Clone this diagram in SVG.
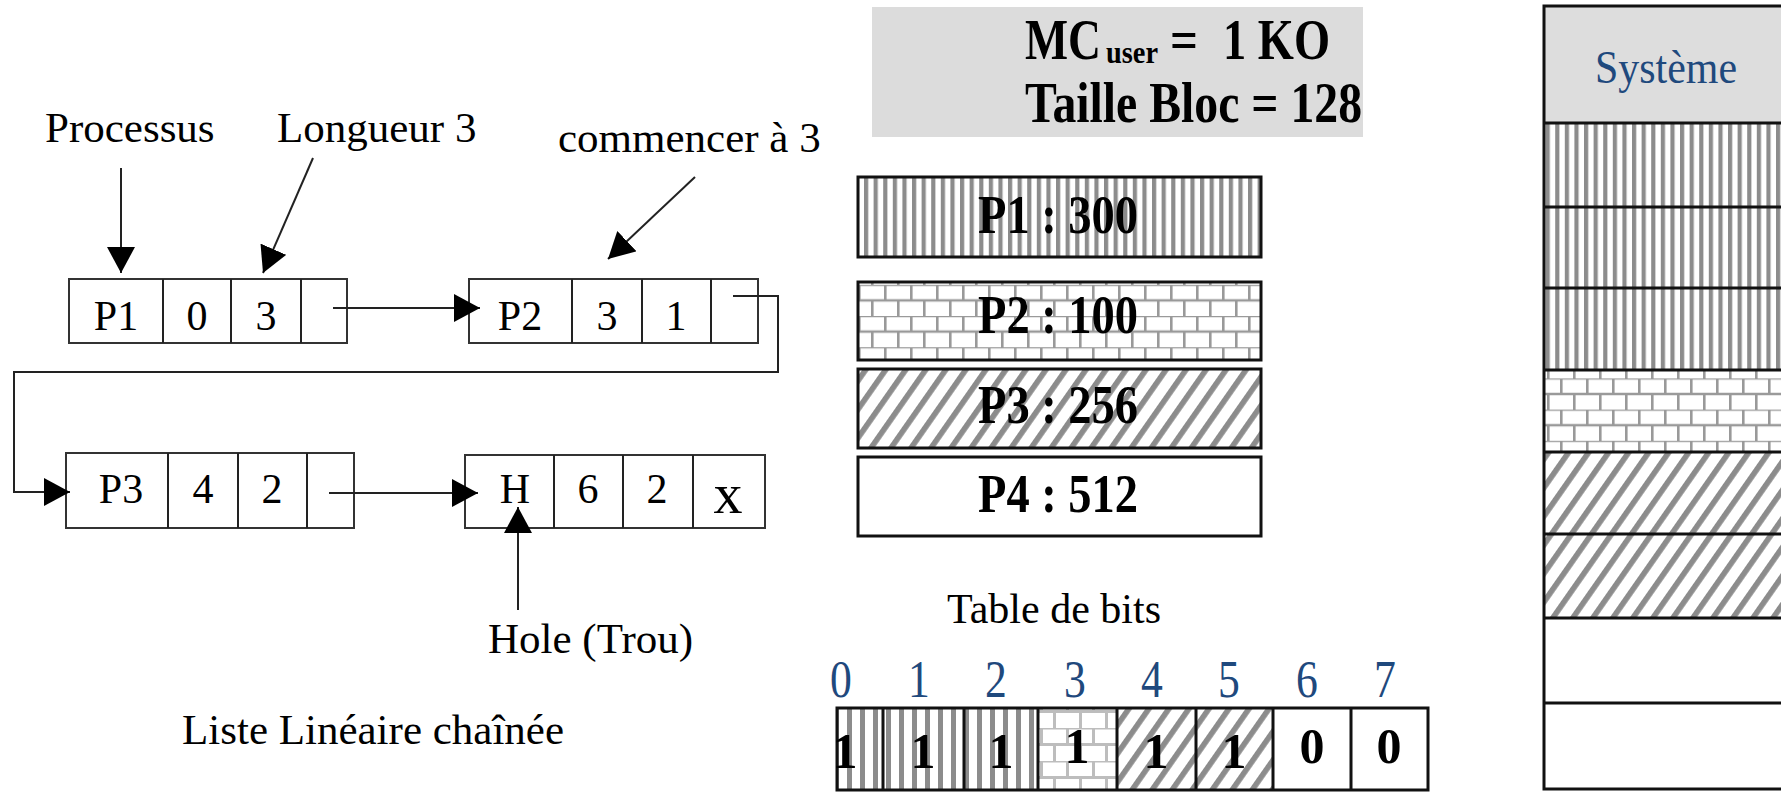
<svg xmlns="http://www.w3.org/2000/svg" width="1781" height="792" viewBox="0 0 1781 792">
  <style>
    .t { font-family: "Liberation Serif", "Times New Roman", serif; fill: #000; }
    .c { text-anchor: middle; }
    .b { font-weight: bold; }
    .blue { fill: #1f497d; }
    .cell { fill: #fff; stroke: #333; stroke-width: 2; }
    .leg { stroke: #111; stroke-width: 3; }
    .col { stroke: #111; stroke-width: 3; }
    .wire { fill: none; stroke: #222; stroke-width: 2; }
    .arrow { fill: none; stroke: #222; stroke-width: 2; marker-end: url(#head); }
  </style>
  <defs>
    <marker id="head" markerUnits="userSpaceOnUse" markerWidth="26" markerHeight="28" viewBox="0 0 26 28" refX="26" refY="14" orient="auto">
      <path d="M0,0 L26,14 L0,28 z" fill="#000"/>
    </marker>
    <!-- vertical stripes: process P1 -->
    <pattern id="vstripe" patternUnits="userSpaceOnUse" width="9.6" height="10">
      <rect width="9.6" height="10" fill="#fff"/>
      <rect width="4.2" height="10" fill="#8c8c8c"/>
    </pattern>
    <pattern id="vstripeBit" patternUnits="userSpaceOnUse" width="13" height="10" x="2">
      <rect width="13" height="10" fill="#fff"/>
      <rect width="5" height="10" fill="#8c8c8c"/>
    </pattern>
    <!-- brick wall: process P2 -->
    <pattern id="brick" patternUnits="userSpaceOnUse" width="26" height="31.2" y="4">
      <rect width="26" height="31.2" fill="#fff"/>
      <g stroke="#999" stroke-width="2.6" fill="none">
        <path d="M0,0 H26 M0,15.6 H26 M1.3,0 V15.6 M14.3,15.6 V31.2"/>
      </g>
    </pattern>
    <pattern id="brickBit" patternUnits="userSpaceOnUse" width="26" height="33" y="2">
      <rect width="26" height="33" fill="#fff"/>
      <g stroke="#bdbdbd" stroke-width="3" fill="none">
        <path d="M0,0 H26 M0,16.5 H26 M1.5,0 V16.5 M14.5,16.5 V33"/>
      </g>
    </pattern>
    <!-- diagonal hatch: process P3 -->
    <pattern id="hatch" patternUnits="userSpaceOnUse" width="16.4" height="16" patternTransform="rotate(35)">
      <rect width="16.4" height="16" fill="#fff"/>
      <rect width="5.6" height="16" fill="#8c8c8c"/>
    </pattern>
  </defs>

  <rect width="1781" height="792" fill="#fff"/>

  <!-- annotation labels -->
  <g id="label-processus"><text class="t" x="45" y="142" font-size="43">Processus</text></g>
  <g id="label-longueur"><text class="t" x="277" y="142" font-size="43">Longueur 3</text></g>
  <g id="label-commencer"><text class="t" x="558" y="152" font-size="43">commencer à 3</text></g>
  <g id="label-hole"><text class="t" x="488" y="653" font-size="43">Hole (Trou)</text></g>
  <g id="label-liste"><text class="t" x="182" y="744" font-size="43">Liste Linéaire chaînée</text></g>

  <!-- linked list nodes -->
  <g id="node-p1">
    <rect class="cell" x="69" y="279" width="278" height="64"/>
    <path class="wire" d="M163,279 V343 M231,279 V343 M301,279 V343"/>
    <text class="t c" x="116" y="330" font-size="42">P1</text>
    <text class="t c" x="197" y="330" font-size="42">0</text>
    <text class="t c" x="266" y="330" font-size="42">3</text>
  </g>
  <g id="node-p2">
    <rect class="cell" x="469" y="279" width="289" height="64"/>
    <path class="wire" d="M572,279 V343 M642,279 V343 M711,279 V343"/>
    <text class="t c" x="520" y="330" font-size="42">P2</text>
    <text class="t c" x="607" y="330" font-size="42">3</text>
    <text class="t c" x="676" y="330" font-size="42">1</text>
  </g>
  <g id="node-p3">
    <rect class="cell" x="66" y="453" width="288" height="75"/>
    <path class="wire" d="M168,453 V528 M238,453 V528 M307,453 V528"/>
    <text class="t c" x="121" y="503" font-size="42">P3</text>
    <text class="t c" x="203" y="503" font-size="42">4</text>
    <text class="t c" x="272" y="503" font-size="42">2</text>
  </g>
  <g id="node-h">
    <rect class="cell" x="465" y="455" width="300" height="73"/>
    <path class="wire" d="M554,455 V528 M623,455 V528 M693,455 V528"/>
    <text class="t c" x="515" y="503" font-size="42">H</text>
    <text class="t c" x="588" y="503" font-size="42">6</text>
    <text class="t c" x="657" y="503" font-size="42">2</text>
    <text class="t c" x="728" y="513" font-size="58">x</text>
  </g>

  <!-- connectors -->
  <g id="connectors">
    <path class="arrow" d="M121,168 L121,273"/>
    <path class="arrow" d="M313,158 L263,273"/>
    <path class="arrow" d="M695,177 L608,259"/>
    <path class="arrow" d="M333,308 L480,308"/>
    <path class="arrow" d="M733,296 H778 V372 H14 V492 H70"/>
    <path class="arrow" d="M329,493 L478,493"/>
    <path class="arrow" d="M518,610 L518,507"/>
  </g>

  <!-- memory parameters -->
  <g id="params">
    <rect x="872" y="7" width="491" height="130" fill="#dcdcdc"/>
    <text class="t b" y="59" font-size="56">
      <tspan x="1025" textLength="76" lengthAdjust="spacingAndGlyphs">MC</tspan><tspan x="1106" dy="4" font-size="32" textLength="52" lengthAdjust="spacingAndGlyphs">user</tspan><tspan x="1170" dy="-4" textLength="28" lengthAdjust="spacingAndGlyphs">=</tspan><tspan x="1223" textLength="107" lengthAdjust="spacingAndGlyphs">1 KO</tspan>
    </text>
    <text class="t b" x="1025" y="122" font-size="56" textLength="337" lengthAdjust="spacingAndGlyphs">Taille Bloc = 128</text>
  </g>

  <!-- process legend -->
  <g id="legend-p1">
    <rect class="leg" x="858" y="177" width="403" height="80" fill="url(#vstripe)"/>
    <text class="t b" x="978" y="233" font-size="55" textLength="160" lengthAdjust="spacingAndGlyphs">P1 : 300</text>
  </g>
  <g id="legend-p2">
    <rect class="leg" x="858" y="282" width="403" height="78" fill="url(#brick)"/>
    <text class="t b" x="978" y="333" font-size="55" textLength="160" lengthAdjust="spacingAndGlyphs">P2 : 100</text>
  </g>
  <g id="legend-p3">
    <rect class="leg" x="858" y="369" width="403" height="79" fill="url(#hatch)"/>
    <text class="t b" x="978" y="423" font-size="55" textLength="160" lengthAdjust="spacingAndGlyphs">P3 : 256</text>
  </g>
  <g id="legend-p4">
    <rect class="leg" x="858" y="457" width="403" height="79" fill="#fff"/>
    <text class="t b" x="978" y="512" font-size="55" textLength="160" lengthAdjust="spacingAndGlyphs">P4 : 512</text>
  </g>

  <!-- bit table -->
  <g id="bit-table">
    <text class="t" x="947" y="623" font-size="42">Table de bits</text>
    <g class="t c blue" font-size="52">
      <text transform="translate(841,697) scale(0.84,1)">0</text>
      <text transform="translate(919,697) scale(0.84,1)">1</text>
      <text transform="translate(996,697) scale(0.84,1)">2</text>
      <text transform="translate(1075,697) scale(0.84,1)">3</text>
      <text transform="translate(1152,697) scale(0.84,1)">4</text>
      <text transform="translate(1229,697) scale(0.84,1)">5</text>
      <text transform="translate(1307,697) scale(0.84,1)">6</text>
      <text transform="translate(1385,697) scale(0.84,1)">7</text>
    </g>
    <rect x="837" y="708" width="127" height="82" fill="url(#vstripeBit)"/>
    <rect x="964" y="708" width="74" height="82" fill="url(#vstripeBit)"/>
    <rect x="1038" y="708" width="79" height="82" fill="url(#brickBit)"/>
    <rect x="1117" y="708" width="156" height="82" fill="url(#hatch)"/>
    <rect x="837" y="708" width="591" height="82" fill="none" stroke="#111" stroke-width="3"/>
    <path d="M883,708 V790 M964,708 V790 M1038,708 V790 M1117,708 V790 M1196,708 V790 M1273,708 V790 M1351,708 V790" stroke="#111" stroke-width="3"/>
    <g class="t c b" font-size="50">
      <text x="845" y="768">1</text>
      <text x="923" y="768">1</text>
      <text x="1001" y="768">1</text>
      <text x="1077" y="763">1</text>
      <text x="1156" y="768">1</text>
      <text x="1234" y="768">1</text>
      <text x="1312" y="763">0</text>
      <text x="1389" y="763">0</text>
    </g>
  </g>

  <!-- main memory column -->
  <g id="memory">
    <rect x="1544" y="6" width="260" height="117" fill="#dddddd"/>
    <rect x="1544" y="123" width="260" height="247" fill="url(#vstripe)"/>
    <rect x="1544" y="370" width="260" height="82" fill="url(#brick)"/>
    <rect x="1544" y="452" width="260" height="166" fill="url(#hatch)"/>
    <rect x="1544" y="618" width="260" height="171" fill="#fff"/>
    <rect class="col" x="1544" y="6" width="260" height="783" fill="none"/>
    <path class="col" d="M1544,123 H1781 M1544,207 H1781 M1544,288 H1781 M1544,370 H1781 M1544,452 H1781 M1544,534 H1781 M1544,618 H1781 M1544,703 H1781"/>
    <text class="t blue" x="1595" y="83" font-size="46" textLength="142" lengthAdjust="spacingAndGlyphs">Système</text>
  </g>
</svg>
